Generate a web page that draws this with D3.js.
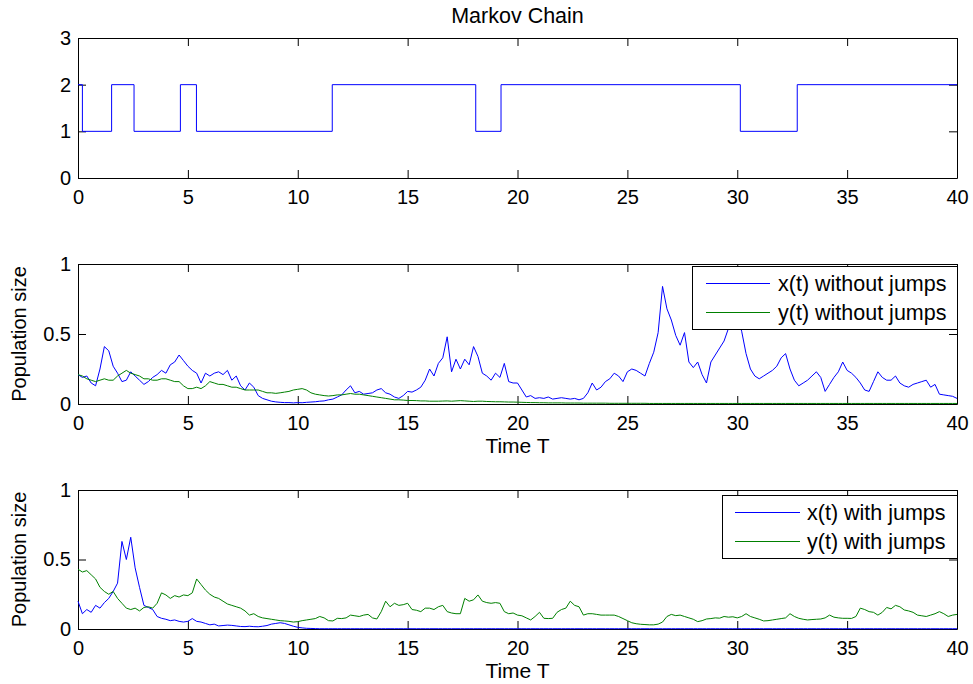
<!DOCTYPE html>
<html>
<head>
<meta charset="utf-8">
<script src="https://cdn.jsdelivr.net/npm/d3@7"></script>
<style>
  body { margin: 0; background: #fff; }
  text { font-family: "Liberation Sans", Arial, sans-serif; }
</style>
</head>
<body>
<svg id="chart" width="973" height="684"></svg>
<script>
// markov chain switching times / states
const chainTimes  = [0, 0.2, 1.53, 2.55, 4.66, 5.39, 11.57, 18.1, 19.25, 30.14, 32.73, 40];
const chainStates = [2, 1,   2,    1,    2,    1,    2,     1,    2,     1,     2,     2];

// sampled paths, one value every tStep from t = 0 to 40
const tStep = 0.2;

const xNoJump = [
  0.21,0.19,0.20,0.15,0.13, 0.25,0.41,0.38,0.27,0.22, 0.16,0.17,0.23,0.20,0.17, 0.14,0.16,0.19,0.21,0.24,
  0.22,0.28,0.30,0.35,0.31, 0.27,0.24,0.22,0.15,0.22, 0.20,0.22,0.23,0.21,0.24, 0.17,0.20,0.13,0.10,0.15,
  0.12,0.06,0.04,0.03,0.02, 0.015,0.012,0.010,0.010,0.008, 0.010,0.009,0.012,0.014,0.016, 0.020,0.022,0.030,0.035,0.050,
  0.065,0.10,0.13,0.08,0.09, 0.07,0.075,0.08,0.10,0.11, 0.08,0.07,0.05,0.04,0.06, 0.09,0.085,0.10,0.12,0.17,
  0.25,0.20,0.29,0.33,0.48, 0.23,0.32,0.25,0.32,0.28, 0.41,0.34,0.22,0.20,0.17, 0.22,0.19,0.29,0.16,0.15,
  0.15,0.10,0.05,0.06,0.04, 0.045,0.04,0.05,0.035,0.04, 0.045,0.04,0.035,0.04,0.03, 0.04,0.08,0.15,0.10,0.12,
  0.16,0.18,0.22,0.20,0.16, 0.23,0.25,0.24,0.22,0.20, 0.29,0.37,0.51,0.84,0.68, 0.60,0.49,0.42,0.51,0.30,
  0.26,0.30,0.21,0.15,0.30, 0.35,0.40,0.45,0.54,0.58, 0.62,0.52,0.36,0.25,0.20, 0.18,0.20,0.22,0.24,0.27,
  0.33,0.36,0.25,0.17,0.13, 0.15,0.17,0.20,0.23,0.19, 0.09,0.14,0.19,0.23,0.30, 0.24,0.22,0.19,0.15,0.10,
  0.09,0.16,0.23,0.19,0.17, 0.17,0.20,0.15,0.13,0.12, 0.14,0.15,0.16,0.17,0.12, 0.14,0.07,0.065,0.06,0.055,
  0.04
];

const yNoJump = [
  0.21,0.20,0.18,0.17,0.16, 0.17,0.18,0.17,0.17,0.20, 0.22,0.24,0.22,0.21,0.20, 0.18,0.18,0.17,0.17,0.18,
  0.18,0.17,0.16,0.16,0.13, 0.11,0.11,0.12,0.11,0.13, 0.16,0.15,0.14,0.14,0.13, 0.12,0.12,0.11,0.10,0.10,
  0.10,0.10,0.09,0.08,0.08, 0.076,0.08,0.085,0.09,0.10, 0.105,0.11,0.10,0.08,0.07, 0.065,0.06,0.057,0.06,0.065,
  0.065,0.07,0.075,0.07,0.07, 0.065,0.06,0.055,0.05,0.045, 0.04,0.035,0.03,0.03,0.028, 0.025,0.025,0.024,0.022,0.022,
  0.020,0.020,0.020,0.021,0.022, 0.020,0.022,0.024,0.022,0.020, 0.018,0.020,0.020,0.018,0.017, 0.016,0.016,0.015,0.014,0.014,
  0.013,0.012,0.011,0.010,0.010, 0.009,0.009,0.008,0.008,0.008, 0.008,0.007,0.007,0.007,0.007, 0.006,0.006,0.006,0.006,0.006,
  0.006,0.005,0.005,0.005,0.005, 0.005,0.005,0.005,0.005,0.005, 0.004,0.004,0.004,0.004,0.004, 0.004,0.004,0.004,0.004,0.004,
  0.004,0.004,0.004,0.004,0.004, 0.004,0.004,0.004,0.004,0.004, 0.004,0.004,0.004,0.004,0.004, 0.004,0.004,0.004,0.004,0.004,
  0.004,0.004,0.004,0.004,0.004, 0.004,0.004,0.004,0.004,0.004, 0.004,0.004,0.004,0.004,0.004, 0.004,0.004,0.004,0.004,0.004,
  0.004,0.004,0.004,0.004,0.004, 0.004,0.004,0.004,0.004,0.004, 0.004,0.004,0.004,0.004,0.004, 0.004,0.004,0.004,0.004,0.004,
  0.004
];

const xJump = [
  0.20,0.11,0.14,0.12,0.17, 0.15,0.19,0.22,0.27,0.33, 0.63,0.50,0.66,0.44,0.30, 0.17,0.155,0.14,0.09,0.077,
  0.07,0.06,0.065,0.055,0.05, 0.055,0.075,0.055,0.05,0.04, 0.03,0.035,0.022,0.025,0.028, 0.026,0.022,0.018,0.017,0.02,
  0.017,0.016,0.02,0.025,0.035, 0.04,0.045,0.04,0.03,0.02, 0.012,0.008,0.005,0.004,0.003, 0.002,0.002,0.002,0.002,0.002,
  0.002,0.002,0.002,0.002,0.002, 0.002,0.002,0.002,0.002,0.002, 0.002,0.002,0.002,0.002,0.002, 0.002,0.002,0.002,0.002,0.002,
  0.002,0.002,0.002,0.002,0.002, 0.002,0.002,0.002,0.002,0.002, 0.002,0.002,0.002,0.002,0.002, 0.002,0.002,0.002,0.002,0.002,
  0.002,0.002,0.002,0.002,0.002, 0.002,0.002,0.002,0.002,0.002, 0.002,0.002,0.002,0.002,0.002, 0.002,0.002,0.002,0.002,0.002,
  0.002,0.002,0.002,0.002,0.002, 0.002,0.002,0.002,0.002,0.002, 0.002,0.002,0.002,0.002,0.002, 0.002,0.002,0.002,0.002,0.002,
  0.002,0.002,0.002,0.002,0.002, 0.002,0.002,0.002,0.002,0.002, 0.002,0.002,0.002,0.002,0.002, 0.002,0.002,0.002,0.002,0.002,
  0.002,0.002,0.002,0.002,0.002, 0.002,0.002,0.002,0.002,0.002, 0.002,0.002,0.002,0.002,0.002, 0.002,0.002,0.002,0.002,0.002,
  0.002,0.002,0.002,0.002,0.002, 0.002,0.002,0.002,0.002,0.002, 0.002,0.002,0.002,0.002,0.002, 0.002,0.002,0.002,0.002,0.002,
  0.002
];

const yJump = [
  0.43,0.41,0.42,0.39,0.36, 0.30,0.27,0.25,0.27,0.22, 0.185,0.15,0.14,0.15,0.13, 0.155,0.16,0.15,0.185,0.26,
  0.245,0.22,0.24,0.23,0.245, 0.24,0.26,0.36,0.32,0.28, 0.25,0.23,0.22,0.20,0.18, 0.17,0.16,0.15,0.13,0.10,
  0.11,0.09,0.08,0.075,0.07, 0.065,0.06,0.058,0.055,0.05, 0.053,0.06,0.065,0.07,0.075, 0.09,0.08,0.06,0.058,0.077,
  0.075,0.08,0.10,0.095,0.09, 0.10,0.105,0.08,0.072,0.125, 0.20,0.16,0.185,0.17,0.175, 0.185,0.14,0.135,0.125,0.15,
  0.15,0.14,0.16,0.17,0.125, 0.115,0.11,0.11,0.22,0.20, 0.21,0.245,0.20,0.19,0.185, 0.19,0.185,0.125,0.11,0.115,
  0.10,0.095,0.08,0.065,0.09, 0.12,0.077,0.075,0.077,0.12, 0.14,0.15,0.20,0.17,0.16, 0.10,0.11,0.11,0.105,0.10,
  0.10,0.10,0.10,0.09,0.075, 0.06,0.045,0.038,0.034,0.032, 0.03,0.03,0.035,0.05,0.09, 0.105,0.096,0.10,0.09,0.08,
  0.07,0.053,0.06,0.072,0.075, 0.08,0.078,0.09,0.085,0.088, 0.08,0.09,0.11,0.09,0.08, 0.07,0.058,0.06,0.065,0.07,
  0.075,0.08,0.11,0.09,0.077, 0.07,0.065,0.068,0.07,0.072, 0.08,0.10,0.085,0.08,0.077, 0.077,0.076,0.09,0.15,0.14,
  0.125,0.12,0.10,0.12,0.155, 0.145,0.17,0.16,0.137,0.13, 0.12,0.10,0.095,0.09,0.10, 0.11,0.125,0.11,0.09,0.10,
  0.105
];

const xTicks = [0, 5, 10, 15, 20, 25, 30, 35, 40];
const chainTicks = [0, 1, 2, 3];
const popTicks = [0, 0.5, 1];

const blue = "#0000ff", green = "#008000";

const svg = d3.select("#chart");
const left = 78, right = 957;

const x = d3.scaleLinear().domain([0, 40]).range([left, right]);

function drawFrame(top, bottom, yDomain, yTicks) {
  const y = d3.scaleLinear().domain(yDomain).range([bottom, top]);
  const g = svg.append("g");

  const styleAxis = sel => {
    sel.attr("font-size", 20).attr("font-family", null);
    sel.selectAll("path, line").attr("stroke", "#000");
    sel.selectAll("text").attr("fill", "#000");
  };

  g.append("g").attr("transform", `translate(0,${bottom})`)
    .call(d3.axisBottom(x).tickValues(xTicks).tickSize(-8).tickSizeOuter(0).tickPadding(12))
    .call(styleAxis);
  g.append("g").attr("transform", `translate(0,${top})`)
    .call(d3.axisTop(x).tickValues(xTicks).tickSize(-8).tickSizeOuter(0).tickFormat(""))
    .call(styleAxis);
  g.append("g").attr("transform", `translate(${left},0)`)
    .call(d3.axisLeft(y).tickValues(yTicks).tickSize(-8).tickSizeOuter(0).tickPadding(7).tickFormat(d3.format("")))
    .call(styleAxis);
  g.append("g").attr("transform", `translate(${right},0)`)
    .call(d3.axisRight(y).tickValues(yTicks).tickSize(-8).tickSizeOuter(0).tickFormat(""))
    .call(styleAxis);
  return y;
}

function drawPath(values, y, color) {
  const line = d3.line()
    .x((d, i) => x(i * tStep))
    .y(d => y(d));
  svg.append("path")
    .datum(values)
    .attr("fill", "none")
    .attr("stroke", color)
    .attr("stroke-width", 1)
    .attr("d", line);
}

function drawLegend(x0, y0, w, h, lineX0, lineX1, textX, rows) {
  const g = svg.append("g");
  g.append("rect")
    .attr("x", x0 + 0.5).attr("y", y0 + 0.5)
    .attr("width", w).attr("height", h)
    .attr("fill", "#fff").attr("stroke", "#000");
  rows.forEach(r => {
    g.append("line")
      .attr("x1", lineX0).attr("x2", lineX1)
      .attr("y1", r.y + 0.5).attr("y2", r.y + 0.5)
      .attr("stroke", r.color);
    g.append("text")
      .attr("x", textX).attr("y", r.y)
      .attr("dy", "0.35em")
      .attr("font-size", 21.5)
      .text(r.label);
  });
}

// panel 1: markov chain
const y1 = drawFrame(38, 178, [0, 3], chainTicks);
svg.append("path")
  .datum(chainTimes.map((t, i) => [t, chainStates[i]]))
  .attr("fill", "none")
  .attr("stroke", blue)
  .attr("stroke-width", 1)
  .attr("d", d3.line().x(d => x(d[0])).y(d => y1(d[1])).curve(d3.curveStepAfter));

svg.append("text")
  .attr("x", (left + right) / 2).attr("y", 23)
  .attr("text-anchor", "middle")
  .attr("font-size", 21.5)
  .text("Markov Chain");

// panel 2: without jumps
const y2 = drawFrame(264, 404, [0, 1], popTicks);
drawPath(xNoJump, y2, blue);
drawPath(yNoJump, y2, green);
drawLegend(692, 266, 265, 63, 706, 770, 778, [
  {y: 283, color: blue, label: "x(t) without jumps"},
  {y: 312, color: green, label: "y(t) without jumps"}
]);

// panel 3: with jumps
const y3 = drawFrame(490, 629, [0, 1], popTicks);
drawPath(xJump, y3, blue);
drawPath(yJump, y3, green);
drawLegend(722, 495, 235, 63, 735, 800, 807, [
  {y: 512, color: blue, label: "x(t) with jumps"},
  {y: 541, color: green, label: "y(t) with jumps"}
]);

// axis labels
[453, 678].forEach(base => {
  svg.append("text")
    .attr("x", (left + right) / 2).attr("y", base)
    .attr("text-anchor", "middle")
    .attr("font-size", 21)
    .text("Time T");
});
[334, 559.5].forEach(cy => {
  svg.append("text")
    .attr("transform", `translate(26,${cy}) rotate(-90)`)
    .attr("text-anchor", "middle")
    .attr("font-size", 20)
    .text("Population size");
});
</script>
</body>
</html>
